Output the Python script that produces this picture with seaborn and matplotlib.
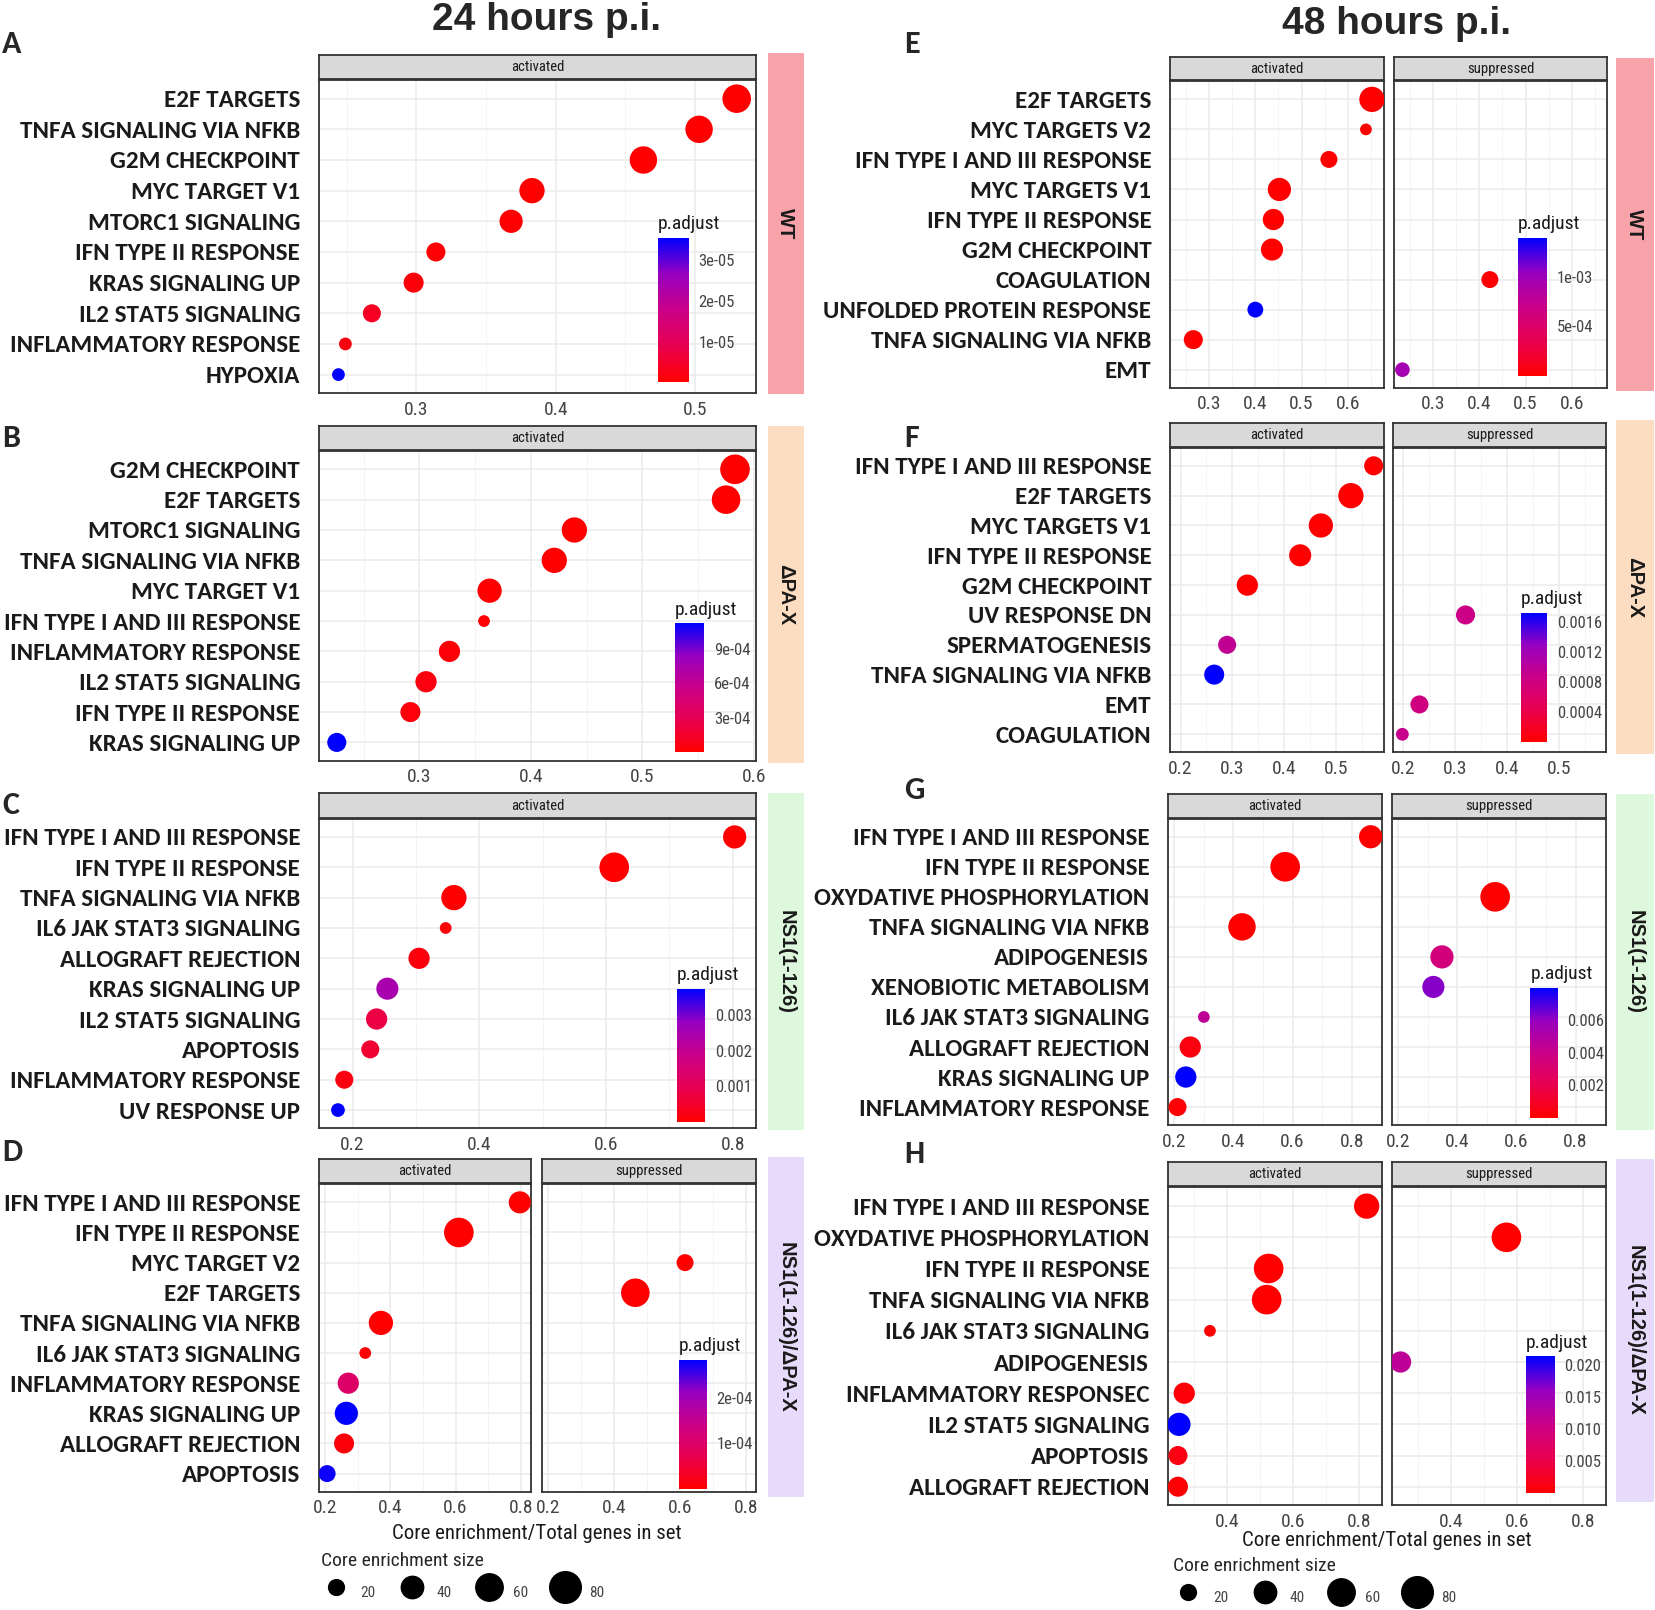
import numpy as np
import pandas as pd
import matplotlib
matplotlib.use('Agg')
import matplotlib.pyplot as plt
import seaborn as sns
from matplotlib.colors import LinearSegmentedColormap, Normalize
from matplotlib.cm import ScalarMappable
from matplotlib.lines import Line2D
from matplotlib.ticker import AutoMinorLocator

# ---------------- data ----------------
ACT, SUP = 'activated', 'suppressed'

A_terms = ["E2F TARGETS", "TNFA SIGNALING VIA NFKB", "G2M CHECKPOINT", "MYC TARGET V1",
           "MTORC1 SIGNALING", "IFN TYPE II RESPONSE", "KRAS SIGNALING UP",
           "IL2 STAT5 SIGNALING", "INFLAMMATORY RESPONSE", "HYPOXIA"]
A_facet = [ACT] * 10
A_ratio = [0.530, 0.503, 0.463, 0.383, 0.368, 0.314, 0.298, 0.268, 0.249, 0.244]
A_size = [65, 60, 60, 51, 43, 29, 32, 26, 13, 13]
A_padj = [1e-9, 1e-9, 1e-9, 2e-7, 3e-7, 5e-7, 1e-6, 4e-6, 1.5e-6, 3.54e-5]
A_cb_ticks = [1e-5, 2e-5, 3e-5]
A_cb_labels = ["1e-05", "2e-05", "3e-05"]

B_terms = ["G2M CHECKPOINT", "E2F TARGETS", "MTORC1 SIGNALING", "TNFA SIGNALING VIA NFKB",
           "MYC TARGET V1", "IFN TYPE I AND III RESPONSE", "INFLAMMATORY RESPONSE",
           "IL2 STAT5 SIGNALING", "IFN TYPE II RESPONSE", "KRAS SIGNALING UP"]
B_facet = [ACT] * 10
B_ratio = [0.583, 0.575, 0.439, 0.421, 0.363, 0.358, 0.327, 0.306, 0.292, 0.226]
B_size = [70, 65, 51, 51, 47, 11, 36, 36, 32, 29]
B_padj = [1e-8, 1e-8, 1e-7, 1e-7, 1e-7, 2e-5, 3e-5, 5e-5, 4e-5, 1.12e-3]
B_cb_ticks = [3e-4, 6e-4, 9e-4]
B_cb_labels = ["3e-04", "6e-04", "9e-04"]

C_terms = ["IFN TYPE I AND III RESPONSE", "IFN TYPE II RESPONSE", "TNFA SIGNALING VIA NFKB",
           "IL6 JAK STAT3 SIGNALING", "ALLOGRAFT REJECTION", "KRAS SIGNALING UP",
           "IL2 STAT5 SIGNALING", "APOPTOSIS", "INFLAMMATORY RESPONSE", "UV RESPONSE UP"]
C_facet = [ACT] * 10
C_ratio = [0.803, 0.613, 0.360, 0.347, 0.305, 0.255, 0.238, 0.228, 0.187, 0.177]
C_size = [43, 70, 51, 11, 36, 39, 36, 26, 26, 15]
C_padj = [1e-8, 1e-8, 2e-6, 1e-4, 1.5e-4, 0.0025, 0.0008, 0.0006, 0.0002, 0.00375]
C_cb_ticks = [0.001, 0.002, 0.003]
C_cb_labels = ["0.001", "0.002", "0.003"]

D_terms = ["IFN TYPE I AND III RESPONSE", "IFN TYPE II RESPONSE", "MYC TARGET V2", "E2F TARGETS",
           "TNFA SIGNALING VIA NFKB", "IL6 JAK STAT3 SIGNALING", "INFLAMMATORY RESPONSE",
           "KRAS SIGNALING UP", "ALLOGRAFT REJECTION", "APOPTOSIS"]
D_facet = [ACT, ACT, SUP, SUP, ACT, ACT, ACT, ACT, ACT, ACT]
D_ratio = [0.797, 0.610, 0.616, 0.465, 0.371, 0.323, 0.271, 0.265, 0.258, 0.206]
D_size = [39, 70, 23, 65, 47, 11, 36, 43, 32, 23]
D_padj = [1e-8, 1e-8, 1e-6, 1e-7, 1e-6, 5e-6, 1.0e-4, 2.86e-4, 1e-5, 2.8e-4]
D_cb_ticks = [1e-4, 2e-4]
D_cb_labels = ["1e-04", "2e-04"]

E_terms = ["E2F TARGETS", "MYC TARGETS V2", "IFN TYPE I AND III RESPONSE", "MYC TARGETS V1",
           "IFN TYPE II RESPONSE", "G2M CHECKPOINT", "COAGULATION", "UNFOLDED PROTEIN RESPONSE",
           "TNFA SIGNALING VIA NFKB", "EMT"]
E_facet = [ACT, ACT, ACT, ACT, ACT, ACT, SUP, ACT, ACT, SUP]
E_ratio = [0.652, 0.639, 0.559, 0.452, 0.439, 0.436, 0.423, 0.400, 0.266, 0.234]
E_size = [51, 11, 23, 43, 36, 39, 23, 20, 29, 17]
E_padj = [1e-8, 5e-6, 1e-5, 1e-7, 1e-6, 1e-6, 2e-5, 1.39e-3, 1e-5, 9.5e-4]
E_cb_ticks = [5e-4, 1e-3]
E_cb_labels = ["5e-04", "1e-03"]

F_terms = ["IFN TYPE I AND III RESPONSE", "E2F TARGETS", "MYC TARGETS V1", "IFN TYPE II RESPONSE",
           "G2M CHECKPOINT", "UV RESPONSE DN", "SPERMATOGENESIS", "TNFA SIGNALING VIA NFKB",
           "EMT", "COAGULATION"]
F_facet = [ACT, ACT, ACT, ACT, ACT, SUP, ACT, ACT, SUP, SUP]
F_ratio = [0.573, 0.529, 0.471, 0.431, 0.329, 0.320, 0.290, 0.265, 0.231, 0.198]
F_size = [29, 51, 47, 39, 36, 29, 26, 32, 26, 13]
F_padj = [1e-7, 1e-8, 1e-8, 1e-6, 1e-5, 0.00085, 0.00095, 0.00173, 0.0008, 0.0009]
F_cb_ticks = [0.0004, 0.0008, 0.0012, 0.0016]
F_cb_labels = ["0.0004", "0.0008", "0.0012", "0.0016"]

G_terms = ["IFN TYPE I AND III RESPONSE", "IFN TYPE II RESPONSE", "OXYDATIVE PHOSPHORYLATION",
           "TNFA SIGNALING VIA NFKB", "ADIPOGENESIS", "XENOBIOTIC METABOLISM",
           "IL6 JAK STAT3 SIGNALING", "ALLOGRAFT REJECTION", "KRAS SIGNALING UP",
           "INFLAMMATORY RESPONSE"]
G_facet = [ACT, ACT, SUP, ACT, SUP, SUP, ACT, ACT, ACT, ACT]
G_ratio = [0.864, 0.575, 0.528, 0.429, 0.348, 0.319, 0.300, 0.254, 0.239, 0.211]
G_size = [43, 70, 70, 60, 43, 39, 11, 36, 36, 26]
G_padj = [1e-8, 1e-8, 1e-6, 1e-6, 0.0035, 0.0062, 0.0045, 0.0004, 0.008, 1e-4]
G_cb_ticks = [0.002, 0.004, 0.006]
G_cb_labels = ["0.002", "0.004", "0.006"]

H_terms = ["IFN TYPE I AND III RESPONSE", "OXYDATIVE PHOSPHORYLATION", "IFN TYPE II RESPONSE",
           "TNFA SIGNALING VIA NFKB", "IL6 JAK STAT3 SIGNALING", "ADIPOGENESIS",
           "INFLAMMATORY RESPONSEC", "IL2 STAT5 SIGNALING", "APOPTOSIS", "ALLOGRAFT REJECTION"]
H_facet = [ACT, SUP, ACT, ACT, ACT, SUP, ACT, ACT, ACT, ACT]
H_ratio = [0.822, 0.567, 0.525, 0.519, 0.347, 0.246, 0.269, 0.253, 0.250, 0.250]
H_size = [51, 70, 70, 70, 11, 36, 36, 43, 29, 32]
H_padj = [1e-8, 1e-6, 1e-8, 1e-7, 1e-4, 0.012, 0.0005, 0.0213, 0.0012, 0.0003]
H_cb_ticks = [0.005, 0.010, 0.015, 0.020]
H_cb_labels = ["0.005", "0.010", "0.015", "0.020"]

legend_sizes = [20, 40, 60, 80]
strain_names = {'WT': 'WT', 'dPA': 'ΔPA-X', 'NS1': 'NS1(1-126)', 'NS1dPA': 'NS1(1-126)/ΔPA-X'}

# ---------------- style ----------------
sns.set_style('white')
NARROW = ['Roboto Condensed', 'DejaVu Sans']
LABEL = ['Carlito', 'DejaVu Sans']
ARIAL = ['Liberation Sans', 'DejaVu Sans']
plt.rcParams['font.family'] = NARROW

cmap = LinearSegmentedColormap.from_list(
    'padj', ['#FF0000', '#E8004F', '#CA0088', '#9700C0', '#0000FF'])
strip_colors = {'WT': '#F8A3AA', 'dPA': '#FCDDC2', 'NS1': '#DDF8DC', 'NS1dPA': '#E6DBFA'}

# layout grid of the reference (pixels of a 1568 x 1524 canvas)
W, H = 1568.0, 1524.0


def box(x0, y0, x1, y1):
    return [x0 / W, 1 - y1 / H, (x1 - x0) / W, (y1 - y0) / H]


fig = plt.figure(figsize=(16.56, 16.10), dpi=100)

layout = {
    'A': dict(letter=(2, 42), head=(52, 75), panel=(76, 372), facets=[(302, 716)],
              strip=(727, 50, 761, 373), xlim=(0.230, 0.544), xticks=[0.3, 0.4, 0.5],
              cbar=(623, 225, 652, 362), strain='WT'),
    'B': dict(letter=(2, 415), head=(403, 426), panel=(427, 720), facets=[(302, 716)],
              strip=(727, 403, 761, 722), xlim=(0.210, 0.602), xticks=[0.3, 0.4, 0.5, 0.6],
              cbar=(639, 590, 667, 712), strain='dPA'),
    'C': dict(letter=(2, 762), head=(751, 774), panel=(775, 1068), facets=[(302, 716)],
              strip=(727, 751, 761, 1070), xlim=(0.147, 0.837), xticks=[0.2, 0.4, 0.6, 0.8],
              cbar=(641, 936, 668, 1062), strain='NS1'),
    'D': dict(letter=(2, 1090), head=(1097, 1120), panel=(1121, 1412),
              facets=[(302, 503), (513, 716)],
              strip=(727, 1095, 761, 1417), xlim=(0.181, 0.832), xticks=[0.2, 0.4, 0.6, 0.8],
              cbar=(643, 1287, 669, 1409), strain='NS1dPA'),
    'E': dict(letter=(856, 42), head=(54, 76), panel=(77, 367),
              facets=[(1108, 1310), (1320, 1522)],
              strip=(1530, 55, 1566, 370), xlim=(0.216, 0.677), xticks=[0.3, 0.4, 0.5, 0.6],
              cbar=(1437, 225, 1465, 356), strain='WT'),
    'F': dict(letter=(856, 415), head=(400, 423), panel=(424, 712),
              facets=[(1108, 1310), (1319, 1521)],
              strip=(1530, 398, 1566, 714), xlim=(0.180, 0.592), xticks=[0.2, 0.3, 0.4, 0.5],
              cbar=(1440, 580, 1465, 702), strain='dPA'),
    'G': dict(letter=(856, 748), head=(752, 774), panel=(775, 1065),
              facets=[(1106, 1309), (1318, 1521)],
              strip=(1530, 752, 1566, 1070), xlim=(0.179, 0.904), xticks=[0.2, 0.4, 0.6, 0.8],
              cbar=(1449, 935, 1475, 1058), strain='NS1'),
    'H': dict(letter=(856, 1092), head=(1100, 1123), panel=(1124, 1425),
              facets=[(1106, 1309), (1318, 1521)],
              strip=(1530, 1097, 1566, 1422), xlim=(0.220, 0.870), xticks=[0.4, 0.6, 0.8],
              cbar=(1445, 1284, 1472, 1413), strain='NS1dPA'),
}


def draw_panel(key, terms, facets, ratio, size, padj, cb_ticks, cb_labels):
    L = layout[key]
    df = pd.DataFrame({'term': terms, 'facet': facets, 'ratio': ratio,
                       'size': size, 'padj': padj})
    df['row'] = np.arange(len(df))
    n = len(df)
    pmax = df['padj'].max()
    py0, py1 = L['panel']
    hy0, hy1 = L['head']
    for j, (fx0, fx1) in enumerate(L['facets']):
        name = [ACT, SUP][j]
        ax = fig.add_axes(box(fx0, py0, fx1, py1))
        sub = df[df['facet'] == name]
        sns.scatterplot(data=sub, x='ratio', y='row', hue='padj', size='size',
                        palette=cmap, hue_norm=(0, pmax), sizes=(0, 650), size_norm=(0, 100),
                        linewidth=0, legend=False, ax=ax, zorder=3)
        ax.set_xlim(*L['xlim'])
        ax.set_ylim(n - 1 + 0.6, -0.6)
        ax.set_xticks(L['xticks'])
        ax.set_xticklabels([f'{t:g}' for t in L['xticks']])
        ax.xaxis.set_minor_locator(AutoMinorLocator(2))
        ax.set_yticks(range(n))
        ax.set_xlabel('')
        ax.set_ylabel('')
        ax.set_axisbelow(True)
        ax.grid(True, which='major', color='#EBEBEB', lw=1.1)
        ax.grid(True, which='minor', axis='x', color='#F4F4F4', lw=0.7)
        ax.tick_params(axis='x', which='major', length=3.5, width=1, color='#333333',
                       labelsize=14, labelcolor='#444444', pad=2)
        ax.tick_params(which='minor', length=0)
        if j == 0:
            ax.set_yticklabels(terms, fontsize=18, fontweight='bold', color='#1A1A1A',
                               family=LABEL)
            ax.tick_params(axis='y', length=3.5, width=1, color='#333333', pad=10)
        else:
            ax.set_yticklabels([])
            ax.tick_params(axis='y', length=0)
        for sp in ax.spines.values():
            sp.set_color('#333333')
            sp.set_linewidth(1.3)
        # facet header
        hax = fig.add_axes(box(fx0, hy0, fx1, hy1))
        hax.set_facecolor('#D9D9D9')
        hax.set_xticks([])
        hax.set_yticks([])
        for sp in hax.spines.values():
            sp.set_color('#333333')
            sp.set_linewidth(1.3)
        hax.text(0.5, 0.5, name, ha='center', va='center', fontsize=10.5,
                 color='#1A1A1A', transform=hax.transAxes)
    # strain strip on the right
    sx0, sy0, sx1, sy1 = L['strip']
    sax = fig.add_axes(box(sx0, sy0, sx1, sy1))
    sax.set_facecolor(strip_colors[L['strain']])
    sax.set_xticks([])
    sax.set_yticks([])
    for sp in sax.spines.values():
        sp.set_visible(False)
    sax.text(0.5, 0.5, strain_names[L['strain']], rotation=-90, ha='center', va='center',
             fontsize=14.5, fontweight='bold', color='#1A1A1A', transform=sax.transAxes,
             family=ARIAL)
    # colour bar for p.adjust
    cax = fig.add_axes(box(*L['cbar']))
    cb = fig.colorbar(ScalarMappable(Normalize(0, pmax), cmap), cax=cax)
    cb.set_ticks(cb_ticks)
    cb.set_ticklabels(cb_labels)
    cb.outline.set_visible(False)
    cax.tick_params(direction='in', color='white', length=5, width=1.2,
                    labelsize=12, labelcolor='#444444', pad=7)
    cax.set_title('p.adjust', loc='left', fontsize=14, color='#1A1A1A', pad=6)
    # panel letter
    lx, ly = L['letter']
    fig.text(lx / W, 1 - ly / H, key, ha='left', va='center', fontsize=23,
             fontweight='bold', family=LABEL)


draw_panel('A', A_terms, A_facet, A_ratio, A_size, A_padj, A_cb_ticks, A_cb_labels)
draw_panel('B', B_terms, B_facet, B_ratio, B_size, B_padj, B_cb_ticks, B_cb_labels)
draw_panel('C', C_terms, C_facet, C_ratio, C_size, C_padj, C_cb_ticks, C_cb_labels)
draw_panel('D', D_terms, D_facet, D_ratio, D_size, D_padj, D_cb_ticks, D_cb_labels)
draw_panel('E', E_terms, E_facet, E_ratio, E_size, E_padj, E_cb_ticks, E_cb_labels)
draw_panel('F', F_terms, F_facet, F_ratio, F_size, F_padj, F_cb_ticks, F_cb_labels)
draw_panel('G', G_terms, G_facet, G_ratio, G_size, G_padj, G_cb_ticks, G_cb_labels)
draw_panel('H', H_terms, H_facet, H_ratio, H_size, H_padj, H_cb_ticks, H_cb_labels)

# column titles
fig.text(517 / W, 1 - 19 / H, '24 hours p.i.', ha='center', va='center', fontsize=28,
         fontweight='bold', family=ARIAL)
fig.text(1322 / W, 1 - 23 / H, '48 hours p.i.', ha='center', va='center', fontsize=28,
         fontweight='bold', family=ARIAL)

# x axis titles and size legends
for cx, cy, lx, ly in [(508, 1452, 298, 1463), (1313, 1458, 1105, 1468)]:
    fig.text(cx / W, 1 - cy / H, 'Core enrichment/Total genes in set', ha='center',
             va='center', fontsize=15, color='#1A1A1A')
    handles = [Line2D([], [], marker='o', linestyle='', color='black',
                      markersize=np.sqrt(6.5 * s)) for s in legend_sizes]
    leg = fig.legend(handles, [str(s) for s in legend_sizes], loc='upper left',
                     bbox_to_anchor=(lx / W, 1 - ly / H), ncol=4, frameon=False,
                     title='Core enrichment size', alignment='left', fontsize=11,
                     title_fontsize=14, handletextpad=0.6, columnspacing=1.4,
                     handleheight=2.6, borderaxespad=0)
    for t in leg.get_texts():
        t.set_color('#444444')

fig.savefig('out.png', dpi=100)
